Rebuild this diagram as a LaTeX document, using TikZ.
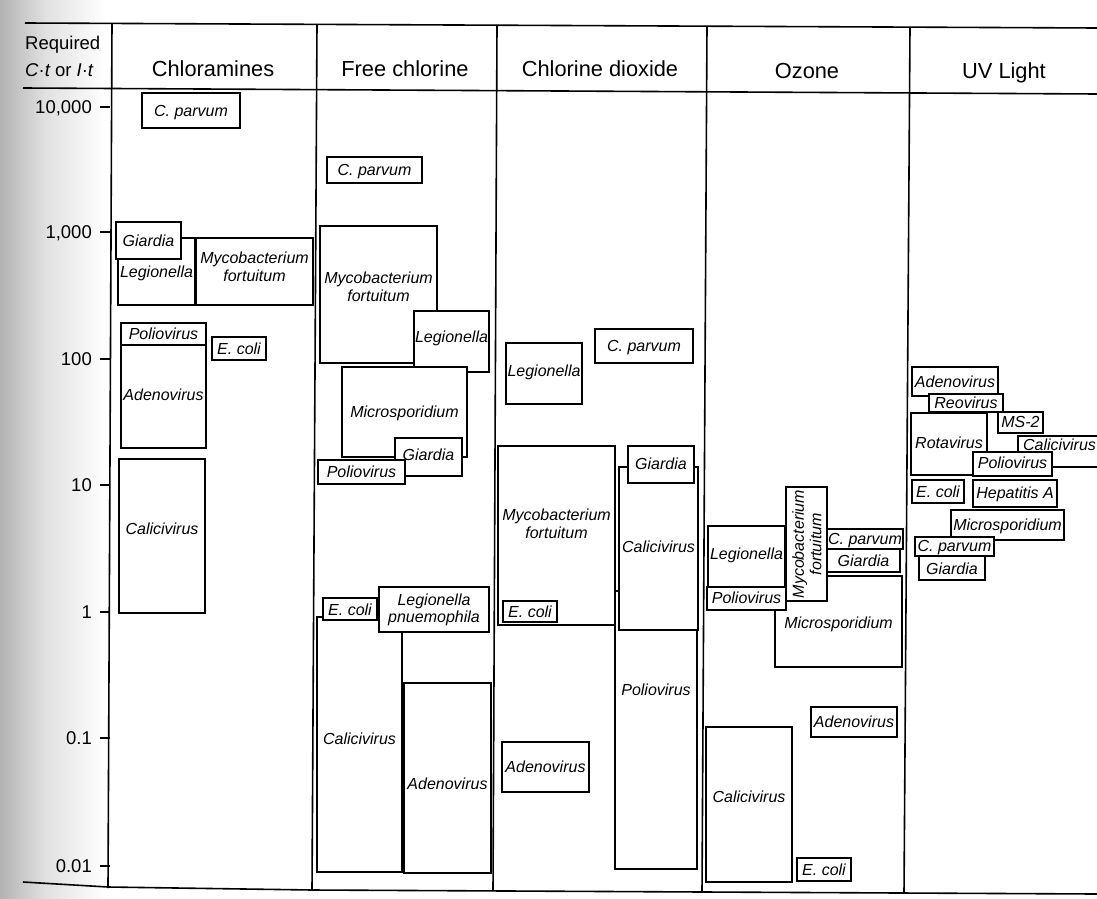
\documentclass[tikz,border=0pt]{standalone}
\usepackage{fontspec}
\setmainfont{Liberation Sans}
\tikzset{
  box/.style={draw, line width=1.5pt, fill=white, inner sep=0pt, outer sep=0pt},
  lbl/.style={font=\fontsize{16}{17.5}\selectfont\itshape, inner sep=0pt, text height=11.4pt, text depth=0pt, align=center},
  lbltwo/.style={font=\fontsize{16}{17.5}\selectfont\itshape, inner sep=0pt, align=center},
  rule/.style={line width=1.6pt},
  hdr/.style={font=\fontsize{21.8}{25}\selectfont, anchor=base, inner sep=0pt},
  axlbl/.style={font=\fontsize{18.5}{22}\selectfont, anchor=base east, inner sep=0pt},
}
% name x1 y1 x2 y2
\newcommand\mybox[5]{\node[box, minimum width={(#4-#2)*1pt}, minimum height={(#5-#3)*1pt}] (#1) at ({(#2+#4)/2},{(#3+#5)/2}) {};}
% name x1 y1 x2 y2 ty text
\newcommand\mybt[7]{\mybox{#1}{#2}{#3}{#4}{#5}\node[lbl] (#1t) at ({(#2+#4)/2},#6) {#7};}
\newcommand\mybtt[7]{\mybox{#1}{#2}{#3}{#4}{#5}\node[lbltwo] (#1t) at ({(#2+#4)/2},#6) {#7};}
\begin{document}
\begin{tikzpicture}[x=1pt,y=-1pt]
\useasboundingbox (0,0) rectangle (1097,899);
\clip (0,0) rectangle (1097,899);
% scanned gutter shading
\shade[left color=black!30, right color=black!12] (0,0) rectangle (45,899);
\shade[left color=black!12, right color=white] (45,0) rectangle (105,899);

% frame lines
\coordinate (tl) at (25,23);  \coordinate (tr) at (1097,28);
\coordinate (hl) at (23,88);  \coordinate (hr) at (1097,94);
\draw[rule] (tl) -- (tr);
\draw[rule] (hl) -- (hr);
\coordinate (bl) at (23,882); \coordinate (bm) at (108,887); \coordinate (bm2) at (312,890); \coordinate (br) at (1097,894);
\draw[rule] (bl) -- (bm) -- (bm2) -- (br);
\coordinate (a0) at (112,23); \coordinate (a1) at (108,888);
\coordinate (s1a) at (317,24); \coordinate (s1b) at (312,890);
\coordinate (s2a) at (497,25); \coordinate (s2b) at (493,891);
\coordinate (s3a) at (707,26); \coordinate (s3b) at (702,892);
\coordinate (s4a) at (910,27); \coordinate (s4b) at (904,893);
\draw[rule] (a0) -- (a1);
\draw[rule] (s1a) -- (s1b);
\draw[rule] (s2a) -- (s2b);
\draw[rule] (s3a) -- (s3b);
\draw[rule] (s4a) -- (s4b);

% header
\node[font=\fontsize{18.5}{22}\selectfont, anchor=base west, inner sep=0pt] (req1) at (25,50) {Required};
\node[font=\fontsize{18.5}{22}\selectfont, anchor=base west, inner sep=0pt] (req2) at (25,76) {\itshape C\/\upshape·\itshape t\upshape\ or \itshape I\/\upshape·\itshape t};
\node[hdr] (h1) at (213,76) {Chloramines};
\node[hdr] (h2) at (405,77) {Free chlorine};
\node[hdr] (h3) at (600,77) {Chlorine dioxide};
\node[hdr] (h4) at (807,78) {Ozone};
\node[hdr] (h5) at (1004,78) {UV Light};

% axis ticks and labels
\foreach \v/\y [count=\i] in {10{,}000/107, 1{,}000/232, 100/359, 10/485, 1/612, 0.1/738, 0.01/866}{
  \coordinate (tk\i a) at (100,\y); \coordinate (tk\i b) at (110,\y);
  \draw[rule] (tk\i a) -- (tk\i b);
  \node[axlbl] (ax\i) at (92,\y+6.6) {\v};
}

% Chloramines
\mybt{ca1}{142}{93}{240}{128}{111}{C. parvum}
\mybt{ca2}{118}{238}{195}{305}{272}{Legionella}
\mybtt{ca3}{196}{238}{313}{305}{267}{Mycobacterium\\fortuitum}
\mybt{ca4}{116}{222}{181}{259}{241}{Giardia}
\mybt{ca5}{121}{345}{206}{448}{395}{Adenovirus}
\mybt{ca6}{121}{323}{206}{345}{334}{Poliovirus}
\mybt{ca7}{212}{337}{266}{360}{349}{E. coli}
\mybt{ca8}{119}{459}{205}{613}{529}{Calicivirus}

% Free chlorine
\mybt{fc1}{327}{157}{422}{183}{170}{C. parvum}
\mybtt{fc2}{320}{226}{437}{363}{287}{Mycobacterium\\fortuitum}
\mybt{fc3}{414}{311}{489}{372}{337}{Legionella}
\mybt{fc4}{342}{367}{467}{457}{412}{Microsporidium}
\mybt{fc5}{395}{438}{462}{476}{455}{Giardia}
\mybt{fc6}{318}{460}{405}{484}{472}{Poliovirus}
\mybt{fc7}{317}{617}{402}{872}{739}{Calicivirus}
\mybt{fc8}{404}{683}{491}{873}{784}{Adenovirus}
\mybt{fc9}{323}{598}{377}{620}{610}{E. coli}
\mybtt{fc10}{379}{587}{489}{632}{610}{Legionella\\pnuemophila}

% Chlorine dioxide
\mybt{cd1}{506}{343}{582}{404}{371}{Legionella}
\mybt{cd2}{595}{329}{693}{363}{346}{C. parvum}
\mybtt{cd3}{498}{446}{615}{625}{524}{Mycobacterium\\fortuitum}
\mybt{cd4}{503}{601}{557}{622}{612}{E. coli}
\mybt{cd5}{615}{591}{697}{869}{690}{Poliovirus}
\mybt{cd6}{619}{467}{698}{630}{547}{Calicivirus}
\mybt{cd7}{628}{446}{694}{483}{464}{Giardia}
\mybt{cd8}{502}{742}{589}{792}{767}{Adenovirus}

% Ozone
\mybt{oz1}{775}{576}{902}{667}{623}{Microsporidium}
\mybt{oz2}{708}{526}{785}{587}{554}{Legionella}
\mybt{oz3}{707}{587}{786}{610}{598}{Poliovirus}
\mybox{oz4}{786}{487}{827}{601}
\node[lbltwo, rotate=90] (oz4t) at (807,544) {Mycobacterium\\fortuitum};
\mybt{oz5}{827}{529}{903}{549}{539}{C. parvum}
\mybt{oz6}{827}{549}{900}{572}{561}{Giardia}
\mybt{oz7}{811}{707}{897}{737}{722}{Adenovirus}
\mybt{oz8}{706}{727}{792}{882}{797}{Calicivirus}
\mybt{oz9}{797}{858}{851}{881}{870}{E. coli}

% UV light
\mybt{uv1}{912}{367}{998}{396}{382}{Adenovirus}
\mybt{uv2}{929}{394}{1003}{412}{403}{Reovirus}
\mybt{uv3}{911}{413}{987}{475}{443}{Rotavirus}
\mybt{uv4}{998}{412}{1043}{433}{422}{MS-2}
\mybt{uv5}{1018}{436}{1101}{467}{445}{Calicivirus}
\mybt{uv6}{973}{452}{1052}{476}{463}{Poliovirus}
\mybt{uv7}{912}{480}{964}{503}{492}{E. coli}
\mybt{uv8}{973}{480}{1057}{507}{493}{Hepatitis A}
\mybt{uv9}{951}{510}{1064}{540}{525}{Microsporidium}
\mybt{uv10}{915}{537}{994}{556}{546}{C. parvum}
\mybt{uv11}{919}{556}{985}{580}{569}{Giardia}
\end{tikzpicture}
\end{document}
